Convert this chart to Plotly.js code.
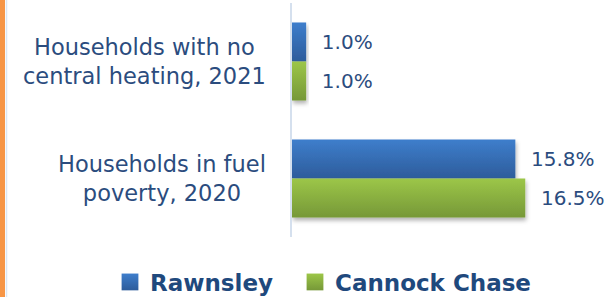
<!DOCTYPE html>
<html>
<head>
<meta charset="utf-8">
<script src="https://cdn.plot.ly/plotly-3.0.1.min.js"></script>
<style>
  html, body { margin: 0; padding: 0; background: #fff; }
  #chart { width: 610px; height: 297px; }
</style>
</head>
<body>
<div id="chart"></div>
<script>
// ---- data ----
const categories = ["Households with no<br>central heating, 2021", "Households in fuel<br>poverty, 2020"];
const seriesNames = ["Rawnsley", "Cannock Chase"];
const rawnsley = [1.0, 15.8];
const cannockChase = [1.0, 16.5];

// ---- style ----
const labelColor = "#2B4C7E";
const legendColor = "#1F497D";
const gradients = [
  { id: "gBlue", top: "#3E7ECC", bottom: "#2D5C9B" },
  { id: "gGreen", top: "#9CC648", bottom: "#769838" }
];
const font = "DejaVu Sans";

const W = 610, H = 297;
const mL = 292, mR = 7, mT = 3, mB = 60;
const plotW = W - mL - mR, plotH = H - mT - mB;
const px2x = px => (px - mL) / plotW;
const px2y = py => (H - mB - py) / plotH;

const seriesValues = [rawnsley, cannockChase];
const data = seriesNames.map((name, i) => ({
  type: "bar",
  orientation: "h",
  name: name,
  y: categories,
  x: seriesValues[i],
  marker: { color: gradients[i].top, line: { width: 0 } },
  texttemplate: "\u00A0\u00A0%{x:.1f}%",
  textposition: "outside",
  cliponaxis: false,
  textfont: { family: font, size: 20, color: labelColor },
  hoverinfo: "skip"
}));

const annotations = categories.map(c => ({
  xref: "paper", yref: "y",
  x: px2x(268), y: c,
  xanchor: "right", yanchor: "middle",
  align: "center",
  text: c,
  showarrow: false,
  font: { family: font, size: 22.5, color: labelColor }
}));

const layout = {
  width: W, height: H,
  margin: { l: mL, r: mR, t: mT, b: mB, pad: 0, autoexpand: false },
  paper_bgcolor: "#fff",
  plot_bgcolor: "#fff",
  barmode: "group",
  bargap: 0.333,
  bargroupgap: 0,
  showlegend: true,
  xaxis: {
    range: [0, 22],
    showgrid: false, zeroline: false, showline: false,
    showticklabels: false, ticks: "", fixedrange: true
  },
  yaxis: {
    type: "category",
    autorange: "reversed",
    showgrid: false, zeroline: false,
    showline: true, linecolor: "#D5E0EE", linewidth: 2,
    showticklabels: false, ticks: "", fixedrange: true
  },
  legend: {
    orientation: "h",
    xref: "paper", yref: "paper",
    x: px2x(110), xanchor: "left",
    y: px2y(282), yanchor: "middle",
    font: { family: font, size: 23, color: legendColor, weight: "bold" },
    bgcolor: "rgba(0,0,0,0)",
    entrywidth: 140,
    traceorder: "normal"
  },
  annotations: annotations,
  shapes: [
    { type: "rect", xref: "paper", yref: "paper",
      x0: px2x(0), x1: px2x(5), y0: px2y(H), y1: px2y(0),
      fillcolor: "#F79646", line: { width: 0 }, layer: "above" },
    { type: "line", xref: "paper", yref: "paper",
      x0: px2x(6.5), x1: px2x(6.5), y0: px2y(H), y1: px2y(0),
      line: { color: "#DCE6F2", width: 1.5 }, layer: "above" }
  ]
};

Plotly.newPlot("chart", data, layout, { staticPlot: true, displayModeBar: false }).then(gd => {
  const NS = "http://www.w3.org/2000/svg";
  const svg = gd.querySelector("svg.main-svg");
  let defs = svg.querySelector("defs");
  if (!defs) { defs = document.createElementNS(NS, "defs"); svg.insertBefore(defs, svg.firstChild); }
  gradients.forEach(g => {
    const lg = document.createElementNS(NS, "linearGradient");
    lg.setAttribute("id", g.id);
    lg.setAttribute("x1", "0"); lg.setAttribute("y1", "0");
    lg.setAttribute("x2", "0"); lg.setAttribute("y2", "1");
    [[0, g.top], [1, g.bottom]].forEach(([o, c]) => {
      const s = document.createElementNS(NS, "stop");
      s.setAttribute("offset", o); s.setAttribute("stop-color", c);
      lg.appendChild(s);
    });
    defs.appendChild(lg);
  });
  const f = document.createElementNS(NS, "filter");
  f.setAttribute("id", "barShadow");
  f.setAttribute("x", "-10%"); f.setAttribute("y", "-20%");
  f.setAttribute("width", "130%"); f.setAttribute("height", "160%");
  const ds = document.createElementNS(NS, "feDropShadow");
  ds.setAttribute("dx", "1"); ds.setAttribute("dy", "3");
  ds.setAttribute("stdDeviation", "2");
  ds.setAttribute("flood-color", "#000"); ds.setAttribute("flood-opacity", "0.3");
  f.appendChild(ds);
  defs.appendChild(f);

  gd.querySelectorAll(".barlayer .trace").forEach((t, i) => {
    t.querySelectorAll("path").forEach(p => {
      p.style.fill = "url(#" + gradients[i].id + ")";
      p.setAttribute("filter", "url(#barShadow)");
    });
  });
  gd.querySelectorAll(".legend .scrollbox").forEach(s => s.removeAttribute("clip-path"));
  gd.querySelectorAll(".legend .traces").forEach((t, i) => {
    t.querySelectorAll(".legendpoints path").forEach(p => {
      p.style.fill = "url(#" + gradients[i].id + ")";
      const tr = p.getAttribute("transform") || "";
      p.setAttribute("transform", tr + " scale(1.4)");
    });
  });
});
</script>
</body>
</html>
